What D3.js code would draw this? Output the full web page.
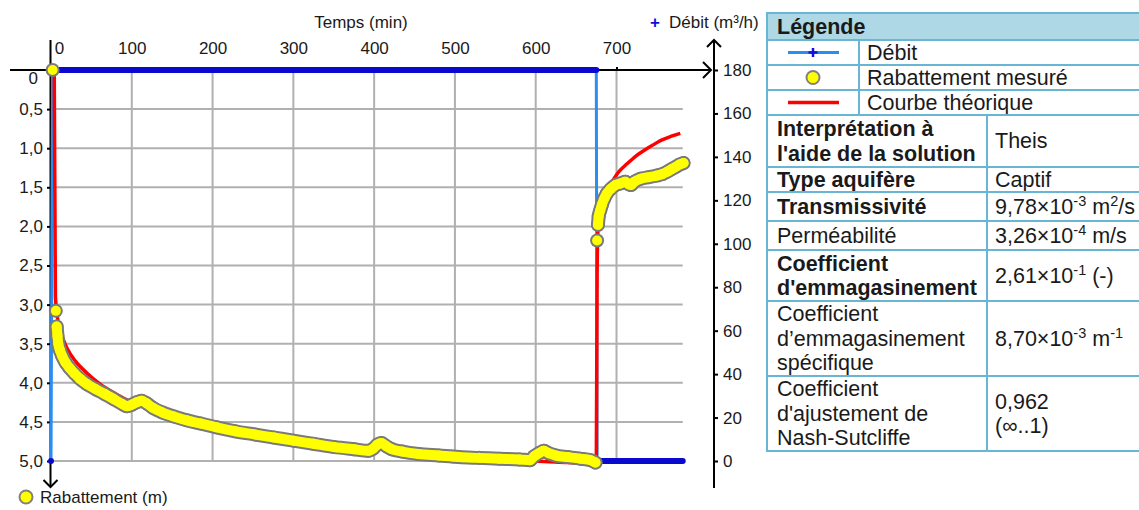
<!DOCTYPE html>
<html>
<head>
<meta charset="utf-8">
<script src="https://cdn.jsdelivr.net/npm/d3@7"></script>
<style>
  body { margin: 0; background: #fff; }
  svg { display: block; font-family: "Liberation Sans", Arial, Helvetica, sans-serif; }
</style>
</head>
<body>
<svg id="chart" width="1139" height="510"></svg>
<script>
// --- data ---
const timeTicks = [0, 100, 200, 300, 400, 500, 600, 700];
const rabTicks = [0, 0.5, 1, 1.5, 2, 2.5, 3, 3.5, 4, 4.5, 5];
const debitTicks = [0, 20, 40, 60, 80, 100, 120, 140, 160, 180];

// measured drawdown (m) vs time (min)
const rabTime = [2, 6, 7, 8, 9, 11, 14, 18, 23, 29, 36, 45, 55, 66, 78, 88, 94, 100, 106, 112, 118, 126, 138, 152, 168, 185,
  205, 228, 252, 276, 300, 325, 350, 375, 393, 399, 404, 409, 415, 422, 435, 455, 480, 505, 530, 555, 580, 593, 598, 604,
  610, 616, 625, 640, 655, 668, 674, 676, 677, 678, 680, 682, 685, 688, 693, 699, 705, 711, 715, 718, 722, 730, 740, 750,
  757, 763, 768, 773, 778, 783];
const rabValue = [0, 3.08, 3.28, 3.4, 3.5, 3.58, 3.66, 3.74, 3.81, 3.88, 3.95, 4.02, 4.08, 4.14, 4.21, 4.27, 4.3, 4.28, 4.25,
  4.23, 4.26, 4.32, 4.38, 4.43, 4.48, 4.52, 4.57, 4.62, 4.66, 4.7, 4.74, 4.78, 4.82, 4.85, 4.87, 4.84, 4.79, 4.77, 4.81, 4.85,
  4.88, 4.91, 4.93, 4.95, 4.96, 4.97, 4.98, 4.99, 4.94, 4.9, 4.87, 4.9, 4.93, 4.95, 4.97, 4.99, 5.02, 2.18, 1.98, 1.87, 1.79,
  1.72, 1.64, 1.58, 1.52, 1.47, 1.45, 1.43, 1.46, 1.47, 1.43, 1.39, 1.37, 1.35, 1.33, 1.3, 1.27, 1.24, 1.21, 1.19];

// theoretical curve (Theis)
const theoTime = [4, 5, 5.5, 7, 10, 15, 20, 30, 45, 60, 80, 100, 130, 160, 200, 250, 300, 350, 400, 450, 500, 550, 600, 640,
  675, 676, 677, 679, 683, 688, 693, 703, 713, 724, 734, 745, 755, 767, 779];
const theoValue = [0, 2.0, 2.9, 3.08, 3.28, 3.44, 3.56, 3.72, 3.88, 4.01, 4.14, 4.25, 4.36, 4.45, 4.54, 4.63, 4.7, 4.77, 4.83,
  4.88, 4.92, 4.96, 5.0, 5.02, 5.04, 2.6, 2.05, 1.8, 1.62, 1.52, 1.45, 1.3, 1.2, 1.1, 1.03, 0.96, 0.9, 0.85, 0.81];

// pumping rate (m3/h)
const debitTime = [0, 2, 675, 676, 782];
const debitValue = [0, 180, 180, 0, 0];

const legendLabels = ['Débit', 'Rabattement mesuré', 'Courbe théorique'];
const paramLabels = [
  ['Interprétation à', "l'aide de la solution"],
  ['Type aquifère'],
  ['Transmissivité'],
  ['Perméabilité'],
  ['Coefficient', "d'emmagasinement"],
  ['Coefficient', 'd’emmagasinement', 'spécifique'],
  ['Coefficient', "d'ajustement de", 'Nash-Sutcliffe']
];
const paramValues = [
  ['Theis'],
  ['Captif'],
  ['9,78×10{-3} m{2}/s'],
  ['3,26×10{-4} m/s'],
  ['2,61×10{-1} (-)'],
  ['8,70×10{-3} m{-1}'],
  ['0,962', '(∞..1)']
];
const paramBold = [true, true, true, false, true, false, false];

// --- layout ---
const svg = d3.select('#chart');
const x = d3.scaleLinear().domain([0, 700]).range([51, 616.5]);
const yL = d3.scaleLinear().domain([0, 5]).range([70, 461]);
const yR = d3.scaleLinear().domain([0, 180]).range([461, 70]);
const tEnd = 782;
const axisFont = 17;

// grid
const grid = svg.append('g').attr('stroke', '#b0b0b0').attr('stroke-width', 2);
grid.append('g').selectAll('line')
  .data(timeTicks.filter(d => d > 0))
  .join('line')
  .attr('x1', d => x(d)).attr('x2', d => x(d))
  .attr('y1', yL(0)).attr('y2', yL(5));
grid.append('g').selectAll('line')
  .data(rabTicks.filter(d => d > 0))
  .join('line')
  .attr('x1', x(0)).attr('x2', x(tEnd))
  .attr('y1', d => yL(d)).attr('y2', d => yL(d));

// axes
const fmtComma = d => d === 0 ? '0' : d3.format('.1f')(d).replace('.', ',');

const topAxis = svg.append('g')
  .attr('transform', `translate(0,${yL(0)})`)
  .call(d3.axisTop(x).tickValues(timeTicks).tickSize(3).tickPadding(13).tickFormat(d3.format('d')));
topAxis.select('.domain').remove();
topAxis.selectAll('text').attr('dx', d => d === 0 ? 8 : 0);

const leftAxis = svg.append('g')
  .attr('transform', `translate(${x(0)},0)`)
  .call(d3.axisLeft(yL).tickValues(rabTicks).tickSize(4).tickPadding(4).tickFormat(fmtComma));
leftAxis.select('.domain').remove();
leftAxis.selectAll('.tick').filter(d => d === 0).select('line').remove();
leftAxis.selectAll('.tick').filter(d => d === 0).select('text').attr('x', -13).attr('y', 8);

const rightAxis = svg.append('g')
  .attr('transform', 'translate(714,0)')
  .call(d3.axisRight(yR).tickValues(debitTicks).tickSize(4).tickPadding(5));
rightAxis.select('.domain').remove();

svg.selectAll('.tick text').attr('font-size', axisFont).attr('fill', '#1a1a1a').attr('font-family', null);
svg.selectAll('.tick line').attr('stroke', '#000').attr('stroke-width', 2);

const axisLines = svg.append('g').attr('stroke', '#000').attr('stroke-width', 2).attr('fill', 'none');
axisLines.append('line').attr('x1', 10).attr('x2', 711).attr('y1', yL(0)).attr('y2', yL(0));
axisLines.append('path').attr('d', `M703,${yL(0) - 8}L711,${yL(0)}L703,${yL(0) + 8}`);
axisLines.append('line').attr('x1', 50.5).attr('x2', 50.5).attr('y1', 40).attr('y2', 487);
axisLines.append('path').attr('d', 'M43.5,480L50.5,487L57.5,480');
axisLines.append('line').attr('x1', 714).attr('x2', 714).attr('y1', 40).attr('y2', 488);
axisLines.append('path').attr('d', 'M707,47L714,40L721,47');

// axis titles
svg.append('text').attr('x', 361).attr('y', 28).attr('text-anchor', 'middle')
  .attr('font-size', axisFont).attr('fill', '#1a1a1a').text('Temps (min)');
svg.append('text').attr('x', 655).attr('y', 28).attr('text-anchor', 'middle')
  .attr('font-size', axisFont).attr('font-weight', 'bold').attr('fill', '#1010dd').text('+');
svg.append('text').attr('x', 669).attr('y', 28)
  .attr('font-size', axisFont).attr('fill', '#1a1a1a').text('Débit (m³/h)');
svg.append('circle').attr('cx', 26).attr('cy', 497).attr('r', 6.5)
  .attr('fill', '#ffff00').attr('stroke', '#808080').attr('stroke-width', 2);
svg.append('text').attr('x', 40).attr('y', 503)
  .attr('font-size', axisFont).attr('fill', '#1a1a1a').text('Rabattement (m)');

// --- series ---
const debitPts = debitTime.map((t, i) => [x(t), yR(debitValue[i])]);
svg.append('path')
  .attr('d', d3.line()(debitPts))
  .attr('fill', 'none').attr('stroke', '#2b8cf2').attr('stroke-width', 3);
// dense '+' markers on the flat parts appear as a dark band
const flatSegs = d3.pairs(debitPts).filter(([a, b]) => a[1] === b[1]);
svg.append('g').selectAll('line')
  .data(flatSegs)
  .join('line')
  .attr('x1', d => d[0][0]).attr('y1', d => d[0][1])
  .attr('x2', d => d[1][0]).attr('y2', d => d[1][1])
  .attr('stroke', '#0a0acf').attr('stroke-width', 6).attr('stroke-linecap', 'round');
svg.append('circle').attr('cx', debitPts[0][0]).attr('cy', debitPts[0][1]).attr('r', 3).attr('fill', '#0a0acf');

const theoPts = theoTime.map((t, i) => [x(t), yL(theoValue[i])]);
svg.append('path')
  .attr('d', d3.line().curve(d3.curveMonotoneX)(theoPts))
  .attr('fill', 'none').attr('stroke', '#ff0000').attr('stroke-width', 3.5);

// measured drawdown: dense markers drawn as a band, broken where the values jump
const rabPts = rabTime.map((t, i) => [x(t), yL(rabValue[i])]);
const segments = [];
rabPts.forEach((p, i) => {
  const prev = rabPts[i - 1];
  if (!prev || Math.abs(p[1] - prev[1]) > 12) segments.push([p]);
  else segments[segments.length - 1].push(p);
});
const bandLine = d3.line().curve(d3.curveMonotoneX);
const layers = [{color: '#7a7a7a', w: 14, r: 7}, {color: '#ffff00', w: 10, r: 5}];
layers.forEach(l => {
  const g = svg.append('g');
  g.selectAll('path')
    .data(segments.filter(s => s.length > 1))
    .join('path')
    .attr('d', d => bandLine(d))
    .attr('fill', 'none').attr('stroke', l.color).attr('stroke-width', l.w)
    .attr('stroke-linecap', 'round').attr('stroke-linejoin', 'round');
  g.selectAll('circle')
    .data(rabPts)
    .join('circle')
    .attr('cx', d => d[0]).attr('cy', d => d[1]).attr('r', l.r).attr('fill', l.color);
});

// --- legend / parameters table ---
const tbl = svg.append('g').attr('font-size', 21.5).attr('fill', '#1a1a1a');
const tblLeft = 767, tblRight = 1141, legCol = 859, parCol = 987;
const legRows = [13, 40, 65, 90, 115];
const parRows = [115, 167, 192, 221, 250, 301, 376, 451];
const lineH = 24.5, capOff = 7.4;
const border = '#68b6d4';

tbl.append('rect').attr('x', tblLeft).attr('y', legRows[0])
  .attr('width', tblRight - tblLeft).attr('height', legRows[1] - legRows[0]).attr('fill', '#aed8e6');

function writeLines(lines, xPos, top, bottom, bold) {
  const mid = (top + bottom) / 2;
  lines.forEach((line, i) => {
    const t = tbl.append('text')
      .attr('x', xPos)
      .attr('y', mid - (lines.length - 1) * lineH / 2 + i * lineH + capOff)
      .attr('font-weight', bold ? 'bold' : 'normal');
    // {..} marks superscripts
    let raised = false;
    line.split(/(\{[^}]*\})/).filter(s => s.length).forEach(part => {
      const sup = part.startsWith('{');
      const span = t.append('tspan').text(sup ? part.slice(1, -1) : part);
      if (sup) { span.attr('font-size', 14.5).attr('dy', -8); raised = true; }
      else if (raised) { span.attr('dy', 8); raised = false; }
    });
  });
}

writeLines(['Légende'], 777, legRows[0], legRows[1], true);
legendLabels.forEach((lab, i) => writeLines([lab], 867, legRows[i + 1], legRows[i + 2], false));

const sym = tbl.append('g');
const symMid = i => (legRows[i + 1] + legRows[i + 2]) / 2;
sym.append('line').attr('x1', 788).attr('x2', 839).attr('y1', symMid(0)).attr('y2', symMid(0))
  .attr('stroke', '#2b8cf2').attr('stroke-width', 3);
sym.append('path').attr('d', `M813,${symMid(0) - 4.5}V${symMid(0) + 4.5}M808.5,${symMid(0)}H817.5`)
  .attr('stroke', '#1010dd').attr('stroke-width', 2.5);
sym.append('circle').attr('cx', 813).attr('cy', symMid(1)).attr('r', 6.5)
  .attr('fill', '#ffff00').attr('stroke', '#808080').attr('stroke-width', 2);
sym.append('line').attr('x1', 788).attr('x2', 839).attr('y1', symMid(2)).attr('y2', symMid(2))
  .attr('stroke', '#ff0000').attr('stroke-width', 3.5);

paramLabels.forEach((lines, i) => {
  writeLines(lines, 777, parRows[i], parRows[i + 1], paramBold[i]);
  writeLines(paramValues[i], 995, parRows[i], parRows[i + 1], false);
});

const borders = tbl.append('g').attr('stroke', border).attr('stroke-width', 2).attr('fill', 'none');
borders.append('rect').attr('x', tblLeft).attr('y', legRows[0])
  .attr('width', tblRight - tblLeft).attr('height', parRows[parRows.length - 1] - legRows[0]);
borders.selectAll('line.h')
  .data(legRows.slice(1).concat(parRows.slice(1, -1)))
  .join('line')
  .attr('x1', tblLeft).attr('x2', tblRight).attr('y1', d => d).attr('y2', d => d);
borders.append('line').attr('x1', legCol).attr('x2', legCol).attr('y1', legRows[1]).attr('y2', legRows[4]);
borders.append('line').attr('x1', parCol).attr('x2', parCol).attr('y1', parRows[0]).attr('y2', parRows[parRows.length - 1]);
</script>
</body>
</html>
